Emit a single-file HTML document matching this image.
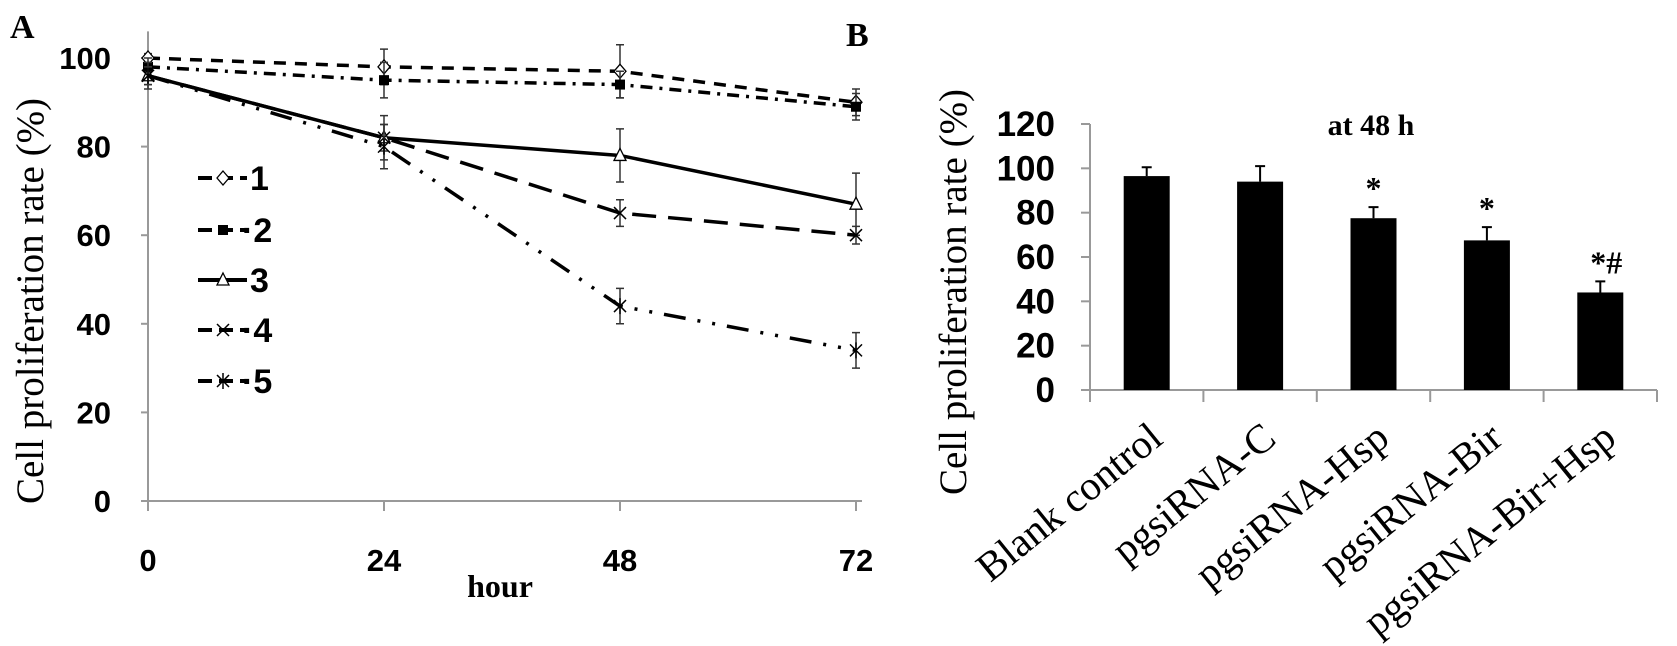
<!DOCTYPE html>
<html><head><meta charset="utf-8"><style>
html,body{margin:0;padding:0;background:#fff;}
svg{display:block;}
.tick{font-family:"Liberation Sans Narrow","Liberation Sans",sans-serif;font-weight:bold;fill:#000;}
.serif{font-family:"Liberation Serif",serif;fill:#000;}
</style></head><body>
<svg id="chart" width="1677" height="646" viewBox="0 0 1677 646" xmlns="http://www.w3.org/2000/svg">
<text class="serif" x="10" y="38" font-size="34" font-weight="bold">A</text>
<text class="serif" x="846" y="46" font-size="34" font-weight="bold">B</text>
<text class="serif" font-size="39" text-anchor="middle" transform="translate(43,301) rotate(-90)">Cell  proliferation  rate (%)</text>
<text class="serif" font-size="39" text-anchor="middle" transform="translate(966,292) rotate(-90)">Cell  proliferation  rate (%)</text>
<text class="serif" x="500" y="597" font-size="32" font-weight="bold" text-anchor="middle">hour</text>
<text class="serif" x="1371" y="135" font-size="30" font-weight="bold" text-anchor="middle">at 48 h</text>
<g id="gA"></g><g id="gB"></g>
</svg>
<script>
const hours=[0,24,48,72];
const yTicksA=[0,20,40,60,80,100];
const seriesNames=['1','2','3','4','5'];
const s1=[100,98,97,90];
const s2=[98,95,94,89];
const s3=[96,82,78,67];
const s4=[96,82,65,60];
const s5=[96,80,44,34];
const e1=[1,4,6,3];
const e2=[2,4,3,3];
const e3=[3,5,6,7];
const e4=[2,3,3,2];
const e5=[2,5,4,4];
const categories=['Blank control','pgsiRNA-C','pgsiRNA-Hsp','pgsiRNA-Bir','pgsiRNA-Bir+Hsp'];
const barValues=[96.5,94,77.5,67.5,44];
const barErrors=[4,7,5,6,5];
const barMarks=['','','*','*','*#'];
const yTicksB=[0,20,40,60,80,100,120];

const NS='http://www.w3.org/2000/svg';
function mk(p,t,a){const e=document.createElementNS(NS,t);for(const k in a)e.setAttribute(k,a[k]);p.appendChild(e);return e;}
const gA=document.getElementById('gA'),gB=document.getElementById('gB');
const xA=h=>148+(h/72)*708;
const yA=v=>501-v*4.43;
let ax=mk(gA,'line',{x1:148,y1:yA(0),x2:862,y2:yA(0),stroke:'#999','stroke-width':2});


let ay=mk(gA,'line',{x1:148,y1:yA(0)+3,x2:148,y2:yA(106),stroke:'#999','stroke-width':2});


yTicksA.forEach(v=>{
 mk(gA,'line',{x1:141,y1:yA(v),x2:148,y2:yA(v),stroke:'#999','stroke-width':2});
 const t=mk(gA,'text',{x:111,y:yA(v)+11,'font-size':31,'text-anchor':'end',class:'tick'});t.textContent=v;
 
 
});
hours.forEach(h=>{
 mk(gA,'line',{x1:xA(h),y1:yA(0),x2:xA(h),y2:yA(0)+10,stroke:'#999','stroke-width':2});
 const t=mk(gA,'text',{x:xA(h),y:yA(0)+70,'font-size':31,'text-anchor':'middle',class:'tick'});t.textContent=h;
 
 
});
const dashes=['12,9','12,7,3,7','none','24,12','22,12,3,12,3,12'];
const allS=[s1,s2,s3,s4,s5],allE=[e1,e2,e3,e4,e5];
function marker(g,i,x,y){
 if(i===0)mk(g,'path',{d:`M${x} ${y-7}L${x+6} ${y}L${x} ${y+7}L${x-6} ${y}Z`,fill:'#fff',stroke:'#000','stroke-width':1.3});
 else if(i===1)mk(g,'rect',{x:x-5,y:y-5,width:10,height:10,fill:'#000'});
 else if(i===2)mk(g,'path',{d:`M${x} ${y-7}L${x+6} ${y+5}L${x-6} ${y+5}Z`,fill:'#fff',stroke:'#000','stroke-width':1.3});
 else if(i===3)mk(g,'path',{d:`M${x-6} ${y-6}L${x+6} ${y+6}M${x-6} ${y+6}L${x+6} ${y-6}`,stroke:'#000','stroke-width':1.5});
 else mk(g,'path',{d:`M${x-6} ${y-6}L${x+6} ${y+6}M${x-6} ${y+6}L${x+6} ${y-6}M${x} ${y-8}L${x} ${y+8}`,stroke:'#000','stroke-width':1.5});
}
allS.forEach((s,i)=>{
 const g=mk(gA,'g',{});
 
 
 const l=mk(g,'polyline',{points:s.map((v,j)=>xA(hours[j])+','+yA(v)).join(' '),fill:'none',stroke:'#000','stroke-width':3.5,'stroke-dasharray':dashes[i]});
 
 
 s.forEach((v,j)=>{
  const x=xA(hours[j]),e=allE[i][j];
  mk(g,'path',{d:`M${x} ${yA(v+e)}V${yA(v-e)}M${x-4} ${yA(v+e)}H${x+4}M${x-4} ${yA(v-e)}H${x+4}`,stroke:'#333','stroke-width':1.5});
  marker(g,i,x,yA(v));
 });
});
const legY=[178,230,280,330,381];
seriesNames.forEach((n,i)=>{
 const g=mk(gA,'g',{});
 
 
 const y=legY[i];
 mk(g,'line',{x1:198,y1:y,x2:247,y2:y,stroke:'#000','stroke-width':4,'stroke-dasharray':i===2?'none':'14,7'});
 marker(g,i,223,y);
 const t=mk(g,'text',{x:i===0||i===2?250:242,y:y+12,'font-size':34,class:'tick'});t.textContent=(i===0||i===2?'':'·')+n;
});
const xB=i=>1090+113.4*(i+0.5);
const yB=v=>390-v*(266/120);
let bx=mk(gB,'line',{x1:1090,y1:390,x2:1657,y2:390,stroke:'#999','stroke-width':2});


let by=mk(gB,'line',{x1:1090,y1:yB(120),x2:1090,y2:400,stroke:'#999','stroke-width':2});


yTicksB.forEach(v=>{
 mk(gB,'line',{x1:1081,y1:yB(v),x2:1090,y2:yB(v),stroke:'#999','stroke-width':2});
 const t=mk(gB,'text',{x:1055,y:yB(v)+12,'font-size':35,'text-anchor':'end',class:'tick'});t.textContent=v;
 
 
});
for(let i=0;i<=categories.length;i++)mk(gB,'line',{x1:1090+113.4*i,y1:390,x2:1090+113.4*i,y2:402,stroke:'#999','stroke-width':2});
categories.forEach((c,i)=>{
 const x=xB(i),v=barValues[i],e=barErrors[i];
 mk(gB,'path',{d:`M${x} ${yB(v)}V${yB(v+e)}M${x-5} ${yB(v+e)}H${x+5}`,stroke:'#000','stroke-width':2});
 const r=mk(gB,'rect',{x:x-23,y:yB(v),width:46,height:yB(0)-yB(v),fill:'#000'});
 
 
 if(barMarks[i]){const m=mk(gB,'text',{x:x+(barMarks[i].length>1?6:0),y:yB(v+e)-8,'font-size':32,'font-weight':'bold','text-anchor':'middle',class:'serif'});m.textContent=barMarks[i];
 
 }
 const t=mk(gB,'text',{'font-size':41,'text-anchor':'end',class:'serif',transform:`translate(${x+18},${442}) rotate(-39)`});t.textContent=c;
 
 
});
</script>
</body></html>
